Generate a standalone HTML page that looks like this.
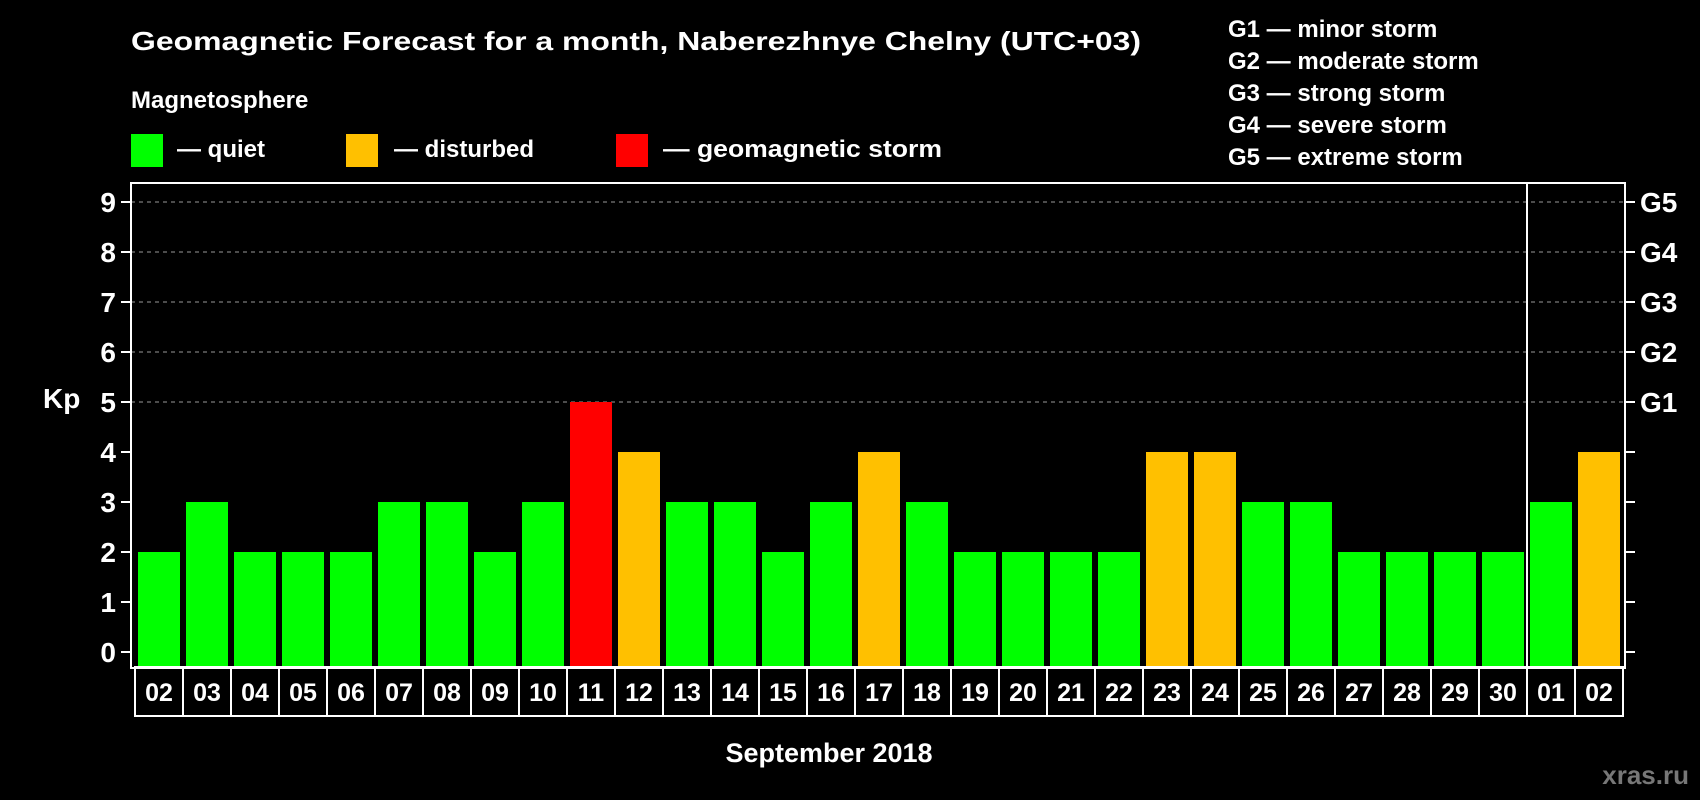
<!DOCTYPE html>
<html><head><meta charset="utf-8"><style>
html,body{margin:0;padding:0;background:#000;}
svg{display:block;font-family:"Liberation Sans",Arial,sans-serif;font-weight:bold;}
</style></head><body>
<svg id="chart" width="1700" height="800" viewBox="0 0 1700 800" xmlns="http://www.w3.org/2000/svg">
<rect width="1700" height="800" fill="#000"/>
<text x="131" y="50" fill="#fff" font-size="26" textLength="1010" lengthAdjust="spacingAndGlyphs">Geomagnetic Forecast for a month, Naberezhnye Chelny (UTC+03)</text>
<text x="131" y="108" fill="#fff" font-size="24">Magnetosphere</text>
<g><rect x="131" y="134" width="32" height="33" fill="#00ff00"/><text x="177" y="157" fill="#fff" font-size="24">— quiet</text></g>
<g><rect x="346" y="134" width="32" height="33" fill="#ffc000"/><text x="394" y="157" fill="#fff" font-size="24">— disturbed</text></g>
<g><rect x="616" y="134" width="32" height="33" fill="#ff0000"/><text x="663" y="157" fill="#fff" font-size="24" textLength="279" lengthAdjust="spacingAndGlyphs">— geomagnetic storm</text></g>
<g fill="#fff" font-size="24">
<text x="1228" y="37">G1 — minor storm</text>
<text x="1228" y="69">G2 — moderate storm</text>
<text x="1228" y="101">G3 — strong storm</text>
<text x="1228" y="133">G4 — severe storm</text>
<text x="1228" y="165">G5 — extreme storm</text>
</g>
<g id="grid"></g>
<g id="bars"></g>
<rect x="131" y="183" width="1494" height="485" fill="none" stroke="#fff" stroke-width="2"/>
<line x1="1527" y1="183" x2="1527" y2="668" stroke="#fff" stroke-width="2"/>
<g id="axes"></g>
<g id="xlabels"></g>
<text x="43" y="408" fill="#fff" font-size="28">Kp</text>
<text x="829" y="762" fill="#fff" font-size="27" text-anchor="middle">September 2018</text>
<text x="1689" y="784" fill="#777" font-size="26" text-anchor="end">xras.ru</text>
</svg>
<script>
const days = ["02","03","04","05","06","07","08","09","10","11","12","13","14","15","16","17","18","19","20","21","22","23","24","25","26","27","28","29","30","01","02"];
const kp = [2,3,2,2,2,3,3,2,3,5,4,3,3,2,3,4,3,2,2,2,2,4,4,3,3,2,2,2,2,3,4];
const yTicks = [0,1,2,3,4,5,6,7,8,9];
const gLabels = ["G1","G2","G3","G4","G5"];
const gLevels = [5,6,7,8,9];

const NS = "http://www.w3.org/2000/svg";
const x0 = 135, pitch = 48;
function xPos(i){ return x0 + i*pitch; }
function yPos(v){ return 652 - v*50; }
function mk(tag, attrs, parent){ const e=document.createElementNS(NS,tag); for(const k in attrs) e.setAttribute(k, attrs[k]); parent.appendChild(e); return e; }
function color(v){ return v>=5 ? "#ff0000" : (v>=4 ? "#ffc000" : "#00ff00"); }

const grid=document.getElementById("grid"), bars=document.getElementById("bars"), axes=document.getElementById("axes"), xl=document.getElementById("xlabels");
gLevels.forEach((v,i)=>{
  const l=mk("line",{x1:131,x2:1625,y1:yPos(v),y2:yPos(v),stroke:"#999","stroke-width":1,"stroke-dasharray":"4,4"},grid);
  
  
  const t=mk("text",{x:1640,y:yPos(v)+10,fill:"#fff","font-size":28},axes);
  t.textContent=gLabels[i];
  
  
});
yTicks.forEach(v=>{
  mk("line",{x1:121,x2:131,y1:yPos(v),y2:yPos(v),stroke:"#fff","stroke-width":2},axes);
  mk("line",{x1:1625,x2:1635,y1:yPos(v),y2:yPos(v),stroke:"#fff","stroke-width":2},axes);
  const t=mk("text",{x:116,y:yPos(v)+10,fill:"#fff","font-size":28,"text-anchor":"end"},axes);
  t.textContent=v;
  
  
});
kp.forEach((v,i)=>{
  const r=mk("rect",{x:xPos(i)+3,y:yPos(v),width:42,height:668-yPos(v),fill:color(v)},bars);
  
  
});
days.forEach((d,i)=>{
  const r=mk("rect",{x:xPos(i),y:667,width:pitch,height:49,fill:"none",stroke:"#fff","stroke-width":2},xl);
  
  
  const t=mk("text",{x:xPos(i)+pitch/2,y:701,fill:"#fff","font-size":25,"text-anchor":"middle"},xl);
  t.textContent=d;
  
  
});
</script>
</body></html>
